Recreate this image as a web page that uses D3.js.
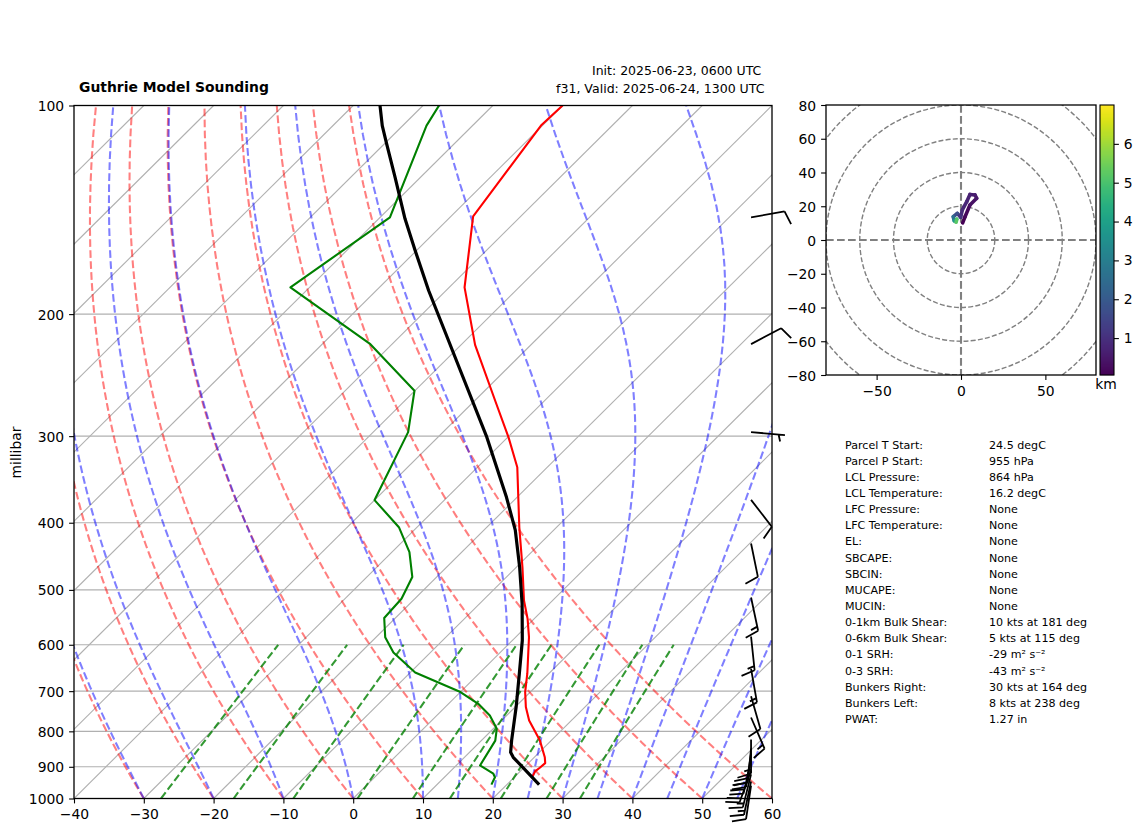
<!DOCTYPE html>
<html lang="en">
<head>
    <meta charset="UTF-8">
    <title>Guthrie Model Sounding</title>
    <script src="https://d3js.org/d3.v7.min.js"></script>
    <style>
        body { margin: 0; padding: 0; background: #fff; }
        svg { display: block; }
        text { font-family: 'DejaVu Sans', sans-serif; fill: #000; }
        .axis text { font-size: 13.9px; }
        .axis line { stroke: #000; stroke-width: 1.1px; }
        .axis path { display: none; }
        .stats text { font-size: 11.1px; }
    </style>
</head>
<body>
<script>
    // Sounding profiles
    const tempP = [100, 106.9, 144.6, 183, 221.5, 266.5, 301, 332.6, 406, 464, 518, 550.6, 585, 660, 702, 738, 772, 825, 872, 889, 903, 914, 929];
    const tempC = [-70, -70.2, -66.8, -57.8, -48, -37.1, -29.9, -24.3, -15.35, -9.1, -4.1, -0.93, 1.9, 6.9, 9.27, 11.54, 13.97, 18.4, 21.5, 22.4, 22.3, 22.15, 22.5];

    const dewP = [100, 106.9, 145, 183, 221, 258, 296, 371, 406, 441, 479, 515, 549, 585, 615.7, 658, 702, 730, 759, 793, 825, 896, 921, 932, 955];
    const dewC = [-87.7, -86.6, -78.6, -82.75, -63.1, -50.06, -45, -40, -32.6, -27.5, -23.5, -21.9, -21.6, -18.7, -15.3, -9.3, 0, 4.25, 7.6, 10.5, 12, 13.4, 16.5, 17.25, 17.8];

    const parcelP = [100, 106.9, 113.6, 126.9, 145.7, 161.9, 184.9, 212.4, 241, 301, 367.6, 410, 464, 523.6, 591.6, 660, 738, 825, 857.6, 872, 955];
    const parcelC = [-96.16, -92.94, -89.67, -83.66, -76.23, -70.2, -62.5, -54.1, -46.46, -33, -21.5, -15.5, -9.5, -3.9, 1.43, 5.76, 10.15, 14.34, 15.88, 16.98, 24.64];

    // Wind barbs
    const barbP = [145, 221, 296, 370.7, 428.6, 512.9, 583.7, 650, 712, 764, 822, 847, 861, 881, 911, 923, 945, 958];
    const barbDir = [80, 62, 95, 142.4, 168.4, 168, 174, 170, 164, 156.6, 180, 185.6, 188.5, 192.8, 199.8, 194, 192, 188.5];
    const barbKt = [10, 10, 5, 10, 10, 15, 15, 15, 10, 15, 15, 20, 20, 20, 20, 15, 15, 10];

    // Hodograph
    const hodoU = [1, 2.4, 5.3, 9.3, 8.3, 5.3, 3.4, 0.8, -0.2, -2.2, -4.6, -4, -2.5, -2.9];
    const hodoV = [10.2, 13.8, 20.7, 24.7, 26.7, 27, 22.7, 17.8, 13.5, 15.8, 13.8, 11.4, 12.3, 10.5];
    const hodoZ = [0.05, 0.2, 0.35, 0.5, 0.6, 0.7, 0.8, 0.9, 1.1, 1.7, 2.6, 3.8, 5.2, 6.5];

    // Axes and background lines
    const tempTicks = [-40, -30, -20, -10, 0, 10, 20, 30, 40, 50, 60];
    const pressureTicks = [100, 200, 300, 400, 500, 600, 700, 800, 900, 1000];
    const isotherms = d3.range(-130, 61, 10);
    const dryStarts = [-30, -20, -10, 0, 10, 20, 30, 40, 50, 60];
    const moistStarts = [-30, -20, -10, 0, 10, 15, 20, 25, 30, 35, 40, 45, 50, 55, 60];
    const mixingRatios = [0.0004, 0.001, 0.002, 0.004, 0.007, 0.01, 0.016, 0.024, 0.032];
    const hodoTicksX = [-50, 0, 50];
    const hodoTicksY = [-80, -60, -40, -20, 0, 20, 40, 60, 80];
    const hodoRings = [20, 40, 60, 80, 100];
    const cbarTicks = [1, 2, 3, 4, 5, 6];

    const statLabels = ["Parcel T Start:", "Parcel P Start:", "LCL Pressure:", "LCL Temperature:", "LFC Pressure:", "LFC Temperature:", "EL:", "SBCAPE:", "SBCIN:", "MUCAPE:", "MUCIN:", "0-1km Bulk Shear:", "0-6km Bulk Shear:", "0-1 SRH:", "0-3 SRH:", "Bunkers Right:", "Bunkers Left:", "PWAT:"];
    const statValues = ["24.5 degC", "955 hPa", "864 hPa", "16.2 degC", "None", "None", "None", "None", "None", "None", "None", "10 kts at 181 deg", "5 kts at 115 deg", "-29 m² s⁻²", "-43 m² s⁻²", "30 kts at 164 deg", "8 kts at 238 deg", "1.27 in"];

    const svg = d3.select("body").append("svg").attr("width", 1142).attr("height", 832);

    // Skew-T panel
    const x = d3.scaleLinear().domain([-40, 60]).range([74, 772]);
    const y = d3.scaleLog().domain([1000, 100]).range([798.5, 105.5]);
    const skewX = (t, p) => x(t) + (798.5 - y(p)) * 698 / 693;
    const line = d3.line().x(d => skewX(d[1], d[0])).y(d => y(d[0]));

    svg.append("clipPath").attr("id", "skewClip").append("rect")
        .attr("x", 74).attr("y", 105.5).attr("width", 698).attr("height", 693);
    const plot = svg.append("g").attr("clip-path", "url(#skewClip)");

    plot.selectAll(".hgrid").data(pressureTicks).enter().append("line")
        .attr("x1", 74).attr("x2", 772).attr("y1", d => y(d)).attr("y2", d => y(d))
        .attr("stroke", "#b0b0b0").attr("stroke-width", 1.1);

    plot.selectAll(".iso").data(isotherms).enter().append("path")
        .attr("d", d => line([[1000, d], [100, d]]))
        .attr("fill", "none").attr("stroke", "#b0b0b0").attr("stroke-width", 1.1);

    // Dry adiabats
    const levels = d3.range(1000, 99, -10);
    const dryCurve = t0 => levels.map(p => [p, (t0 + 273.15) * Math.pow(p / 1000, 0.2857) - 273.15]);

    // Moist adiabats, stepped up from 1000 hPa
    function moistRate(p, tk) {
        const es = 6.112 * Math.exp(17.67 * (tk - 273.15) / (tk - 29.65));
        const rs = 0.62198 * es / (p - es);
        const lv = 2.501e6, rd = 287.05, cp = 1005.7;
        return (rd * tk + lv * rs) / (cp + lv * lv * rs * 0.62198 / (rd * tk * tk)) / p;
    }
    function moistCurve(t0) {
        let tk = t0 + 273.15;
        return levels.map((p, i) => {
            if (i > 0) {
                const h = -10, q = p - h;
                const k1 = moistRate(q, tk);
                const k2 = moistRate(q + h / 2, tk + h / 2 * k1);
                const k3 = moistRate(q + h / 2, tk + h / 2 * k2);
                const k4 = moistRate(q + h, tk + h * k3);
                tk += h / 6 * (k1 + 2 * k2 + 2 * k3 + k4);
            }
            return [p, tk - 273.15];
        });
    }

    // Mixing ratio lines
    const mixLevels = d3.range(1000, 599, -20);
    function mixCurve(w) {
        return mixLevels.map(p => {
            const a = Math.log(p * w / (0.62198 + w) / 6.112);
            return [p, 243.5 * a / (17.67 - a)];
        });
    }

    plot.selectAll(".dry").data(dryStarts).enter().append("path")
        .attr("d", d => line(dryCurve(d)))
        .attr("fill", "none").attr("stroke", "#f00").attr("stroke-opacity", 0.5)
        .attr("stroke-width", 2.08).attr("stroke-dasharray", "7.7,3.3");

    plot.selectAll(".moist").data(moistStarts).enter().append("path")
        .attr("d", d => line(moistCurve(d)))
        .attr("fill", "none").attr("stroke", "#00f").attr("stroke-opacity", 0.5)
        .attr("stroke-width", 2.08).attr("stroke-dasharray", "7.7,3.3");

    plot.selectAll(".mix").data(mixingRatios).enter().append("path")
        .attr("d", d => line(mixCurve(d)))
        .attr("fill", "none").attr("stroke", "#008000").attr("stroke-opacity", 0.8)
        .attr("stroke-width", 2.08).attr("stroke-dasharray", "7.7,3.3");

    const profiles = [
        { p: tempP, t: tempC, color: "#f00", width: 2.1 },
        { p: dewP, t: dewC, color: "#008000", width: 2.1 },
        { p: parcelP, t: parcelC, color: "#000", width: 3.2 }
    ];
    plot.selectAll(".profile").data(profiles).enter().append("path")
        .attr("d", d => line(d.p.map((p, i) => [p, d.t[i]])))
        .attr("fill", "none").attr("stroke", d => d.color).attr("stroke-width", d => d.width)
        .attr("stroke-linejoin", "round");

    // Axes
    svg.append("g").attr("class", "axis").attr("transform", "translate(0,798.5)")
        .call(d3.axisBottom(x).tickValues(tempTicks).tickSize(4.9).tickPadding(6));
    svg.append("g").attr("class", "axis").attr("transform", "translate(74,0)")
        .call(d3.axisLeft(y).tickValues(pressureTicks).tickFormat(d3.format("d")).tickSize(4.9).tickPadding(4.9))
        .selectAll("text").attr("dy", "0.36em");
    svg.append("rect").attr("x", 74).attr("y", 105.5).attr("width", 698).attr("height", 693)
        .attr("fill", "none").attr("stroke", "#000").attr("stroke-width", 1.3);

    // Wind barbs, drawn past the right edge
    const barbLen = 34;
    const barbX = x(-40) + 0.97 * (x(60) - x(-40));
    function barbPath(p, dir, kt) {
        const a = dir * Math.PI / 180, dx = Math.sin(a), dy = -Math.cos(a);
        const bx = barbX, by = y(p);
        const at = (along, side) => [bx + dx * along - dy * side, by + dy * along + dx * side];
        const path = d3.path();
        path.moveTo(bx, by);
        path.lineTo(...at(barbLen, 0));
        let off = barbLen;
        const full = Math.floor(kt / 10), half = kt % 10 >= 5;
        for (let i = 0; i < full; i++) {
            path.moveTo(...at(off, 0));
            path.lineTo(...at(off + barbLen * 0.125, barbLen * 0.4));
            off -= barbLen * 0.125;
        }
        if (half) {
            if (full === 0) off -= barbLen * 0.1875;
            path.moveTo(...at(off, 0));
            path.lineTo(...at(off + barbLen * 0.0625, barbLen * 0.2));
        }
        return path.toString();
    }
    svg.append("g").selectAll("path").data(barbP).enter().append("path")
        .attr("d", (d, i) => barbPath(d, barbDir[i], barbKt[i]))
        .attr("fill", "none").attr("stroke", "#000").attr("stroke-width", 1.8);

    // Titles
    svg.append("text").attr("x", 79).attr("y", 92).attr("font-size", 13.9).attr("font-weight", "bold").text("Guthrie Model Sounding");
    svg.append("text").attr("x", 592).attr("y", 74.5).attr("font-size", 12.5).text("Init: 2025-06-23, 0600 UTC");
    svg.append("text").attr("x", 556).attr("y", 92.5).attr("font-size", 12.55).text("f31, Valid: 2025-06-24, 1300 UTC");
    svg.append("text").attr("transform", "translate(21,452.5) rotate(-90)").attr("text-anchor", "middle")
        .attr("font-size", 13.9).text("millibar");

    // Hodograph
    const hx = d3.scaleLinear().domain([-80, 80]).range([826, 1096]);
    const hy = d3.scaleLinear().domain([-80, 80]).range([375, 105]);
    const zColor = d3.scaleSequential(d3.interpolateViridis).domain([0.05, 7]);

    svg.append("clipPath").attr("id", "hodoClip").append("rect")
        .attr("x", 826).attr("y", 105).attr("width", 270).attr("height", 270);
    const hodo = svg.append("g").attr("clip-path", "url(#hodoClip)");

    hodo.selectAll("circle").data(hodoRings).enter().append("circle")
        .attr("cx", hx(0)).attr("cy", hy(0)).attr("r", d => hx(d) - hx(0))
        .attr("fill", "none").attr("stroke", "#808080").attr("stroke-width", 1.4).attr("stroke-dasharray", "5,2.2");
    hodo.append("line").attr("x1", 826).attr("x2", 1096).attr("y1", hy(0)).attr("y2", hy(0))
        .attr("stroke", "#808080").attr("stroke-width", 2.1).attr("stroke-dasharray", "7.7,3.3");
    hodo.append("line").attr("y1", 105).attr("y2", 375).attr("x1", hx(0)).attr("x2", hx(0))
        .attr("stroke", "#808080").attr("stroke-width", 2.1).attr("stroke-dasharray", "7.7,3.3");

    hodo.selectAll(".seg").data(d3.range(hodoU.length - 1)).enter().append("line")
        .attr("x1", i => hx(hodoU[i])).attr("y1", i => hy(hodoV[i]))
        .attr("x2", i => hx(hodoU[i + 1])).attr("y2", i => hy(hodoV[i + 1]))
        .attr("stroke", i => zColor(hodoZ[i])).attr("stroke-width", 3.6).attr("stroke-linecap", "round");

    svg.append("g").attr("class", "axis").attr("transform", "translate(0,375)")
        .call(d3.axisBottom(hx).tickValues(hodoTicksX).tickSize(4.9).tickPadding(6));
    svg.append("g").attr("class", "axis").attr("transform", "translate(826,0)")
        .call(d3.axisLeft(hy).tickValues(hodoTicksY).tickSize(4.9).tickPadding(4.9))
        .selectAll("text").attr("dy", "0.36em");
    svg.append("rect").attr("x", 826).attr("y", 105).attr("width", 270).attr("height", 270)
        .attr("fill", "none").attr("stroke", "#000").attr("stroke-width", 1.3);

    // Colour bar
    const cy = d3.scaleLinear().domain([0.05, 7]).range([375, 105]);
    svg.append("g").selectAll("rect").data(d3.range(0, 270)).enter().append("rect")
        .attr("x", 1100).attr("width", 14).attr("y", d => 105 + d).attr("height", 1.2)
        .attr("fill", d => zColor(cy.invert(105 + d + 0.5)));
    svg.append("g").attr("class", "axis").attr("transform", "translate(1114,0)")
        .call(d3.axisRight(cy).tickValues(cbarTicks).tickFormat(d3.format("d")).tickSize(4.9).tickPadding(4.9));
    svg.append("rect").attr("x", 1100).attr("y", 105).attr("width", 14).attr("height", 270)
        .attr("fill", "none").attr("stroke", "#000").attr("stroke-width", 1.1);
    svg.append("text").attr("x", 1106).attr("y", 389).attr("text-anchor", "middle").attr("font-size", 13.9).text("km");

    // Parcel and wind table
    const rowY = d3.scaleLinear().domain([0, statLabels.length - 1]).range([448.5, 723]);
    const stats = svg.append("g").attr("class", "stats");
    stats.selectAll(".lab").data(statLabels).enter().append("text")
        .attr("x", 845).attr("y", (d, i) => rowY(i)).text(d => d);
    stats.selectAll(".val").data(statValues).enter().append("text")
        .attr("x", 989).attr("y", (d, i) => rowY(i)).text(d => d);
</script>
</body>
</html>
